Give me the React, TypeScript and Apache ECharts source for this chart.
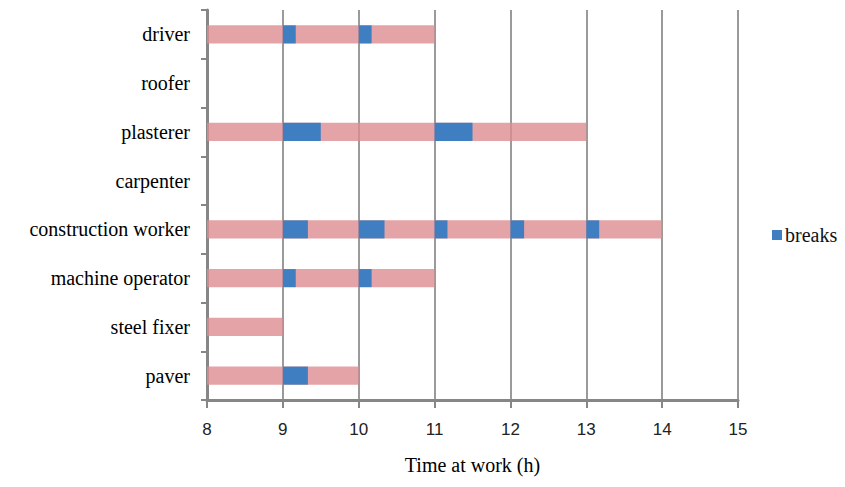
import React, { useEffect, useRef } from "react";
import * as echarts from "echarts";

// bottom to top
const categories = ["paver", "steel fixer", "machine operator", "construction worker", "carpenter", "plasterer", "roofer", "driver"];
const workStart = [8, 8, 8, 8, null, 8, null, 8];
const workEnd = [10, 9, 11, 14, null, 13, null, 11];

const breakWorker = ["driver", "driver", "plasterer", "plasterer", "construction worker", "construction worker", "construction worker", "construction worker", "construction worker", "machine operator", "machine operator", "paver"];
const breakStart = [9, 10, 9, 11, 9, 10, 11, 12, 13, 9, 10, 9];
const breakEnd = [9.17, 10.17, 9.5, 11.5, 9.33, 10.34, 11.17, 12.18, 13.17, 9.17, 10.17, 9.33];

const xTicks = [8, 9, 10, 11, 12, 13, 14, 15];

export default function App() {
  const ref = useRef<HTMLDivElement>(null);
  useEffect(() => {
    if (!ref.current) return;
    const chart = echarts.init(ref.current, undefined, { renderer: "svg" });

    const workData: any[] = [];
    categories.forEach((c, i) => {
      if (workStart[i] != null && workEnd[i] != null) workData.push([i, workStart[i], workEnd[i]]);
    });
    const breakData = breakWorker.map((w, i) => [categories.indexOf(w), breakStart[i], breakEnd[i]]);

    const renderItem = (params: any, api: any) => {
      const cat = api.value(0);
      const p0 = api.coord([api.value(1), cat]);
      const p1 = api.coord([api.value(2), cat]);
      const h = api.size([0, 1])[1] * 0.37;
      return {
        type: "rect",
        shape: { x: p0[0], y: p0[1] - h / 2, width: p1[0] - p0[0], height: h },
        style: api.style(),
      };
    };

    chart.setOption({
      animation: false,
      backgroundColor: "#ffffff",
      grid: { left: 207, right: 107, top: 10, bottom: 87, containLabel: false },
      legend: {
        data: ["breaks"],
        left: 767,
        top: 220,
        icon: "rect",
        itemWidth: 10,
        itemHeight: 10,
        itemGap: 5,
        textStyle: { fontFamily: "Liberation Serif", fontSize: 20, color: "#111", padding: [0, 0, 0, -2] },
      },
      xAxis: {
        type: "value",
        min: xTicks[0],
        max: xTicks[xTicks.length - 1],
        interval: 1,
        name: "Time at work (h)",
        nameLocation: "middle",
        nameGap: 55,
        nameTextStyle: { fontFamily: "Liberation Serif", fontSize: 20, color: "#000" },
        axisLine: { show: true, lineStyle: { color: "#868686", width: 3 } },
        axisTick: { show: true, length: 8, lineStyle: { color: "#868686", width: 2 } },
        axisLabel: { margin: 21, fontFamily: "Liberation Sans", fontSize: 17, color: "#222" },
        splitLine: { show: true, lineStyle: { color: "#9a9a9a", width: 2 } },
      },
      yAxis: {
        type: "category",
        data: categories,
        axisLine: { show: true, lineStyle: { color: "#868686", width: 3 } },
        axisTick: { show: true, length: 6, lineStyle: { color: "#868686", width: 2 } },
        axisLabel: { margin: 17, fontFamily: "Liberation Serif", fontSize: 20, color: "#000" },
        splitLine: { show: false },
      },
      series: [
        {
          name: "work",
          type: "custom",
          renderItem,
          encode: { x: [1, 2], y: 0 },
          itemStyle: { color: "rgba(220,140,145,0.8)" },
          data: workData,
          z: 2,
        },
        {
          name: "breaks",
          type: "custom",
          renderItem,
          encode: { x: [1, 2], y: 0 },
          itemStyle: { color: "#3f7ec0" },
          data: breakData,
          z: 3,
        },
      ],
    });
    return () => chart.dispose();
  }, []);
  return <div ref={ref} style={{ width: 845, height: 487, margin: -8 }} />;
}
